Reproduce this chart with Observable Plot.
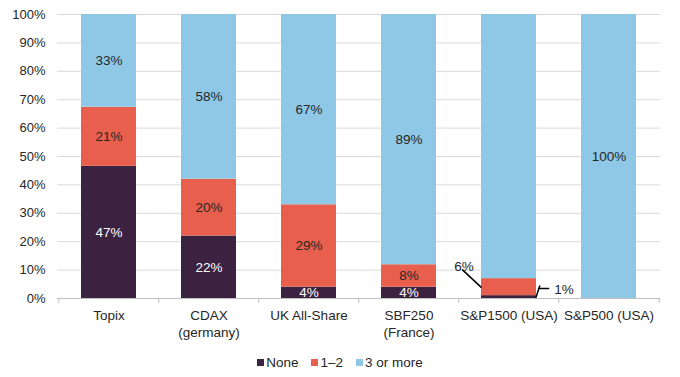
<!DOCTYPE html>
<html><head><meta charset="utf-8">
<script src="https://cdn.jsdelivr.net/npm/d3@7"></script>
<script src="https://cdn.jsdelivr.net/npm/@observablehq/plot@0.6"></script>
<style>
body{margin:0;background:#fff;font-family:"Liberation Sans",Arial,sans-serif;}
#legend{display:flex;justify-content:center;margin-top:15px;font-size:13.5px;color:#262626;}
#legend .lg-swatches{font-size:13.5px !important;font-family:"Liberation Sans",Arial,sans-serif !important;color:#262626 !important;min-height:0 !important;margin:0 !important;}
#legend .lg-swatch{margin-right:13px !important;}
#legend .lg-swatch:last-child{margin-right:0 !important;}
#legend .lg-swatch > svg{margin-right:2px !important;}
</style></head><body>
<div id="chart"></div><div id="legend"></div>
<script>
const categories = ["Topix","CDAX\n(germany)","UK All-Share","SBF250\n(France)","S&P1500 (USA)","S&P500 (USA)"];
const series = ["None","1–2","3 or more"];
const valuesNone = [47,22,4,4,1,0];
const valuesOneTwo = [21,20,29,8,6,0];
const valuesThreePlus = [33,58,67,89,93,100];
const yTicks = [0,10,20,30,40,50,60,70,80,90,100];
const outsideLabelCategory = "S&P1500 (USA)";
const colors = ["#3b2241","#e85f4d","#8fc8e6"];

const seriesValues = [valuesNone, valuesOneTwo, valuesThreePlus];
const rows = [];
series.forEach((s, j) => categories.forEach((c, i) => rows.push({cat: c, series: s, value: seriesValues[j][i]})));

// outside annotations for the S&P1500 bar
const notes = [
  {cat: outsideLabelCategory, label: valuesOneTwo[4] + "%", y: 0.113, dx: -45},
  {cat: outsideLabelCategory, label: valuesNone[4] + "%", y: 0.032, dx: 55}
];
const leaders = [
  {cat: outsideLabelCategory, y: 0.04, dx: -28, rotate: -47, length: 20},
  {cat: outsideLabelCategory, y: 0.004, dx: 27, rotate: 18, length: 9.5},
  {cat: outsideLabelCategory, y: 0.035, dx: 29.5, rotate: 90, length: 8}
];

const W = 680, H = 340, ML = 57, MR = 20;
const step = (W - ML - MR) / categories.length;
const inside = d => d.value > 0 && d.cat !== outsideLabelCategory;

const stack = (o) => Plot.stackY({x: "cat", y: "value", z: "series", offset: "normalize", ...o});

const chart = Plot.plot({
  width: W, height: H, marginLeft: ML, marginRight: MR, marginTop: 14, marginBottom: H - 298,
  style: {fontFamily: '"Liberation Sans", Arial, sans-serif', fontSize: "13.5px", color: "#262626", background: "#fff"},
  x: {domain: categories, paddingInner: 0.45, paddingOuter: 0.225, label: null},
  y: {domain: [0, 1], label: null},
  color: {domain: series, range: colors},
  marks: [
    Plot.ruleY(yTicks, {y: d => d / 100, stroke: "#d9d9d9", strokeWidth: 1}),
    Plot.barY(rows, stack({fill: "series"})),
    Plot.ruleY([0], {stroke: "#bfbfbf", strokeWidth: 1}),
    Plot.axisY(yTicks.map(d => d / 100), {tickSize: 0, tickPadding: 12, fontSize: 13, tickFormat: d => Math.round(d * 100) + "%"}),
    Plot.axisX({tickSize: 0, tickPadding: 10, lineHeight: 1.22}),
    Plot.axisX({tickSize: 5, tickFormat: () => "", dx: -step / 2, stroke: "#bfbfbf"}),
    Plot.axisX([categories[categories.length - 1]], {tickSize: 5, tickFormat: () => "", dx: step / 2, stroke: "#bfbfbf"}),
    Plot.text(rows, stack({text: d => inside(d) && d.series === "None" ? d.value + "%" : "", fill: "white"})),
    Plot.text(rows, stack({text: d => inside(d) && d.series !== "None" ? d.value + "%" : "", fill: "#262626"})),
    ...leaders.map(l => Plot.vector([l], {x: "cat", y: "y", dx: l.dx, rotate: "rotate", length: "length", anchor: "start", r: 0, stroke: "#000", strokeWidth: 1.5})),
    ...notes.map(n => Plot.text([n], {x: "cat", y: "y", dx: n.dx, text: "label", fill: "#262626"}))
  ]
});
document.getElementById("chart").appendChild(chart);

const legend = Plot.legend({color: {domain: series, range: colors}, swatchSize: 7, className: "lg"});
document.getElementById("legend").appendChild(legend);
</script></body></html>
